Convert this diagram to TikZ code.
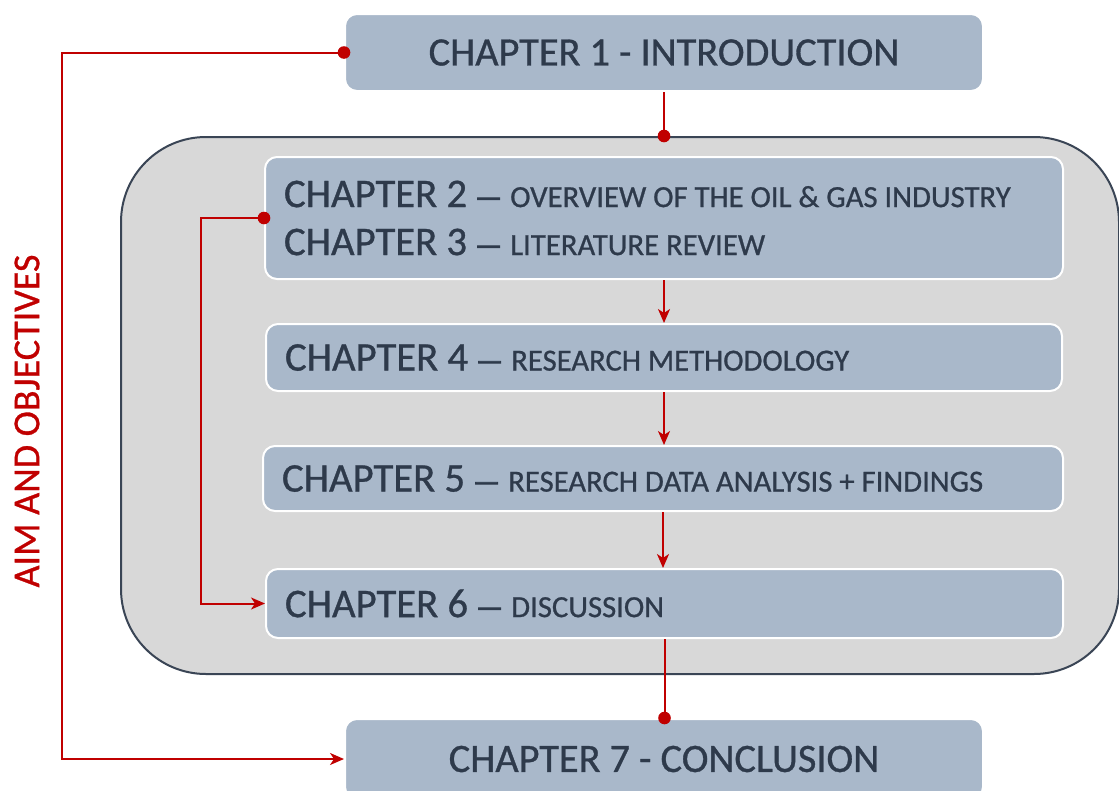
\documentclass[tikz,border=0pt]{standalone}
\usepackage{fontspec}
\setmainfont{Carlito}[FakeBold=0.8]
\usetikzlibrary{arrows.meta}
\definecolor{boxfill}{HTML}{A9B8CA}
\definecolor{boxtext}{HTML}{2E3A4B}
\definecolor{framefill}{HTML}{D8D8D8}
\definecolor{frameline}{HTML}{3A4555}
\definecolor{flowred}{HTML}{C00000}
\tikzset{
  chbox/.style={fill=boxfill, draw=white, line width=2pt, rounded corners=12pt,
    text=boxtext, inner ysep=0pt, anchor=north west},
  listbox/.style={chbox, align=flush left, inner xsep=19pt},
  frame/.style={fill=framefill, draw=frameline, line width=2pt, rounded corners=85pt,
    anchor=north west, inner sep=0pt},
  flow/.style={draw=flowred, line width=2pt},
  flowarrow/.style={flow, -{Stealth[length=14pt,width=12pt,inset=4pt]}},
  dot/.style={fill=flowred},
  big/.style={font=\fontsize{40.3}{48}\selectfont},
  mid/.style={font=\fontsize{40.7}{48}\selectfont},
}
\newcommand{\sm}[1]{{\fontsize{30.7}{48}\selectfont #1}}
\newcommand{\chdash}{\hspace{8pt}{\fontsize{30}{48}\selectfont\addfontfeature{FakeBold=3}—}\hspace{8pt}}
\begin{document}
\begin{tikzpicture}[x=1pt,y=-1pt]
\clip (0,0) rectangle (1119,790);
\fill[white] (0,0) rectangle (1119,790);

% grey frame holding chapters 2 to 6
\node[frame, minimum width=998pt, minimum height=537pt] (frame) at (120,136) {};

% chapter boxes
\node[chbox, big, minimum width=638pt, minimum height=77pt] (c1) at (344,13)
  {CHAPTER 1 - INTRODUCTION};
\node[listbox, mid, minimum width=798pt, minimum height=122pt, text width=760pt] (c23) at (264,156)
  {CHAPTER 2\chdash\sm{OVERVIEW OF THE OIL \& GAS INDUSTRY}\\CHAPTER 3\chdash\sm{LITERATURE REVIEW}};
\node[listbox, mid, minimum width=796pt, minimum height=67pt, text width=758pt] (c4) at (265,323)
  {CHAPTER 4\chdash\sm{RESEARCH METHODOLOGY}};
\node[listbox, mid, minimum width=800pt, minimum height=65pt, text width=762pt] (c5) at (262,445)
  {CHAPTER 5\chdash\sm{RESEARCH DATA ANALYSIS + FINDINGS}};
\node[listbox, mid, minimum width=797pt, minimum height=69pt, text width=759pt] (c6) at (265,568)
  {CHAPTER 6\chdash\sm{DISCUSSION}};
\node[chbox, big, minimum width=638pt, minimum height=80pt] (c7) at (344,718)
  {CHAPTER 7 - CONCLUSION};

% side label
\node[text=flowred, rotate=90, font=\fontsize{38}{44}\selectfont] (aim) at (27,421)
  {AIM AND OBJECTIVES};

% main flow
\draw[flow] (c1.south) -- (c1.south |- frame.north);
\fill[dot] (c1.south |- frame.north) circle (6.3pt);
\draw[flowarrow] (c23.south) -- (c23.south |- c4.north);
\draw[flowarrow] (c4.south) -- (c4.south |- c5.north);
\draw[flowarrow] (c5.south) -- (c5.south |- c6.north);
\draw[flow] (c6.south) -- (c6.south |- c7.north);
\fill[dot] (c6.south |- c7.north) circle (6.3pt);

% outer loop: aim and objectives
\coordinate (outerx) at (62,0);
\draw[flowarrow] (c1.west) -- (c1.west -| outerx) |- (c7.west);
\fill[dot] (c1.west) circle (6.3pt);

% inner loop: chapters 2/3 feed the discussion
\coordinate (innerx) at (201,0);
\draw[flowarrow] (c23.west) -- (c23.west -| innerx) |- (c6.west);
\fill[dot] (c23.west) circle (6.3pt);
\end{tikzpicture}
\end{document}
